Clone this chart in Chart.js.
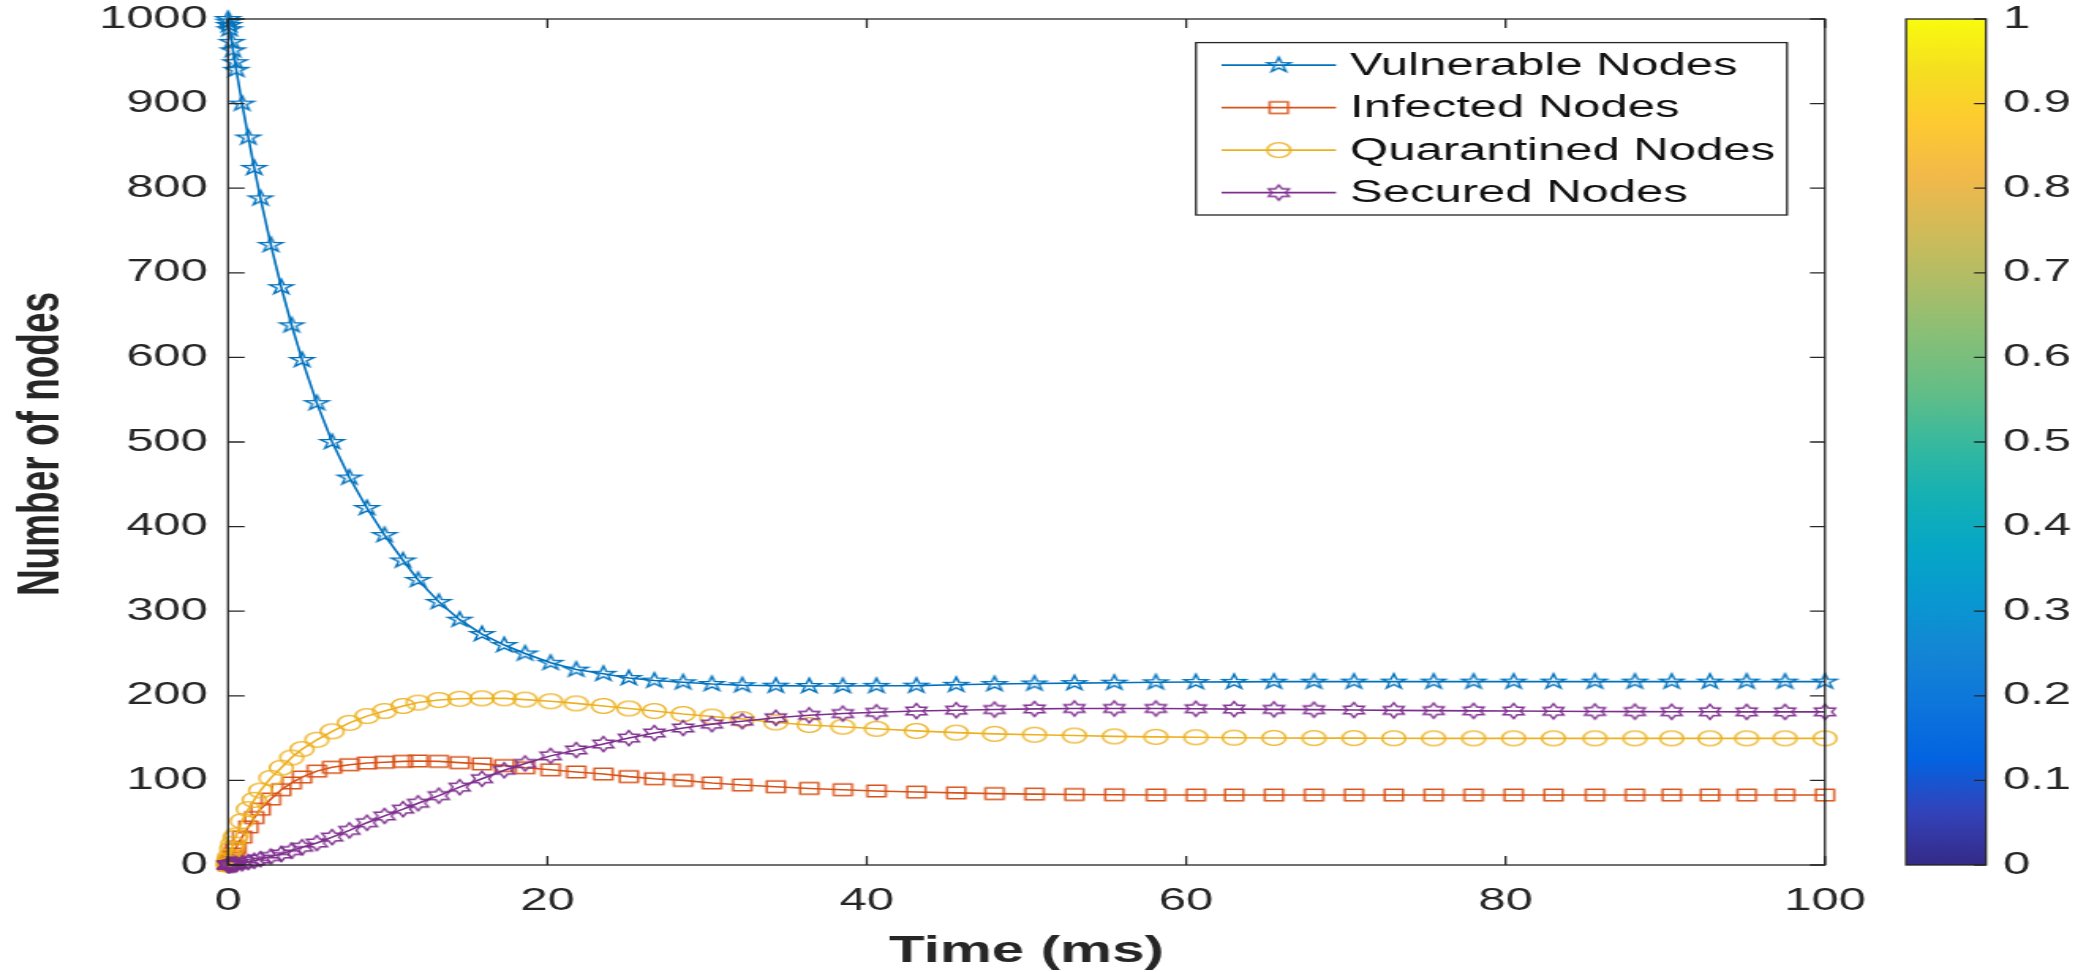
<!DOCTYPE html>
<html><head><meta charset="utf-8">
<script src="https://cdn.jsdelivr.net/npm/chart.js@4.4.1/dist/chart.umd.min.js"></script>
<style>
html,body{margin:0;padding:0;background:#fff;overflow:hidden}
#wrap{width:1320px;height:972px;transform:scaleX(1.5803);transform-origin:0 0}
</style></head><body>
<div id="wrap"><canvas id="c" width="1320" height="972"></canvas></div>
<script>
// DATA
const TIME=[0,0.03,0.06,0.1,0.23,0.31,0.44,0.51,0.88,1.27,1.64,2.03,2.68,3.33,3.98,4.64,5.56,6.52,7.6,8.7,9.8,10.96,11.9,13.2,14.5,15.9,17.3,18.6,20.2,21.8,23.5,25.1,26.7,28.5,30.3,32.2,34.3,36.4,38.5,40.6,43.1,45.6,48.0,50.5,53.0,55.5,58.1,60.6,63.0,65.5,68.0,70.5,73.0,75.5,78.0,80.5,83.0,85.6,88.1,90.4,92.8,95.1,97.5,100];
const VULNERABLE=[1000,997,993,988,973,963,949,940,900,860,824,788,733,683,638,597,546,500,458,422,390,360,337,311,290,273,260,250,239,231,226,221,218,216,214,212.5,212,211.6,211.6,211.8,212,213,213.9,214.6,215,215.5,216,216.3,216.5,216.7,216.7,216.8,216.8,216.8,216.8,216.8,216.8,216.8,216.8,216.8,216.8,216.8,216.8,216.8];
const INFECTED=[0,1.5,3,5,10,13,18,21,33,45,56,66,78,89,97,104,111,115.5,118.5,120.5,121.5,122.5,123,122.5,121,119.5,117.5,115,112.5,110,107.5,104.5,102,100,97,94.5,92.5,90.5,89,87.5,86.2,85.2,84.4,83.8,83.3,83,82.8,82.7,82.7,82.7,82.7,82.7,82.7,82.7,82.7,82.7,82.7,82.7,82.7,82.7,82.7,82.7,82.7,82.7];
const QUARANTINED=[0,3,6,10,19,25,32,35,52,66,77,88,103,115,127,137,148,158,168,176,182,188,192,195,196.5,197,197,195.5,193.5,191,188,185,182,178.5,175.5,172.5,168.5,165.5,163.5,161,158.5,156.5,155,154,153,152,151.5,151,150.5,150.2,150,150,149.8,149.7,149.7,149.7,149.7,149.7,149.7,149.7,149.7,149.7,149.7,149.7];
const SECURED=[0,0,0,0.1,0.3,0.5,0.8,1,2,3.5,5,7,10,13,17,21,26,33,41,50,58,66,73,82,92,102,112,120,129,136,143,150,156,162,166.5,170,174,177,179,180.5,182,183,183.8,184.5,185,185,185,184.7,184.3,184,183.6,183.2,182.8,182.5,182.2,182,181.7,181.5,181.3,181.2,181.1,181,181,181];
const SERIES_NAMES=['Vulnerable Nodes','Infected Nodes','Quarantined Nodes','Secured Nodes'];
const X_TICKS=[0,20,40,60,80,100];
const Y_TICKS=[0,100,200,300,400,500,600,700,800,900,1000];
const CB_TICKS=[0,0.1,0.2,0.3,0.4,0.5,0.6,0.7,0.8,0.9,1];
const CB_LABELS=['0','0.1','0.2','0.3','0.4','0.5','0.6','0.7','0.8','0.9','1'];
const X_TITLE='Time (ms)';
const Y_TITLE='Number of nodes';

// STYLE
const COLORS=['#0072BD','#D95319','#EDB120','#7E2F8E'];
const MARKERS=['pentagram','square','circle','hexagram'];
const PARULA=['#352A87','#3243BA','#0363E1','#0D75DC','#1485D4','#0998D1','#06A7C6','#15B1B4','#38B99E','#65BE86','#87BF77','#AEBD67','#D1BB59','#F1B94A','#FEC932','#F5DE21','#F9FB0E'];
const AXIS_COLOR='#262626';
const FONT='"Liberation Sans", Arial, Helvetica, sans-serif';
const CB_L=1206.1,CB_R=1256.7;

function starPath(g,m,n,R,r){
  for(let i=0;i<n*2;i++){
    const a=-Math.PI/2+i*Math.PI/n, rr=i%2?r:R;
    g.lineTo(m+rr*Math.cos(a),m+rr*Math.sin(a));
  }
  g.closePath();
}
function makeMarker(kind,color){
  const s=22,c=document.createElement('canvas');c.width=s;c.height=s;
  const g=c.getContext('2d'),m=s/2;
  g.strokeStyle=color;g.lineWidth=1.4;
  g.beginPath();
  if(kind==='pentagram') starPath(g,m,5,7.8,7.8*0.382);
  else if(kind==='square') g.rect(m-5.8,m-5.8,11.6,11.6);
  else if(kind==='circle') g.arc(m,m,7.4,0,Math.PI*2);
  else starPath(g,m,6,7.5,7.5/Math.sqrt(3));
  g.stroke();
  return c;
}

const seriesValues=[VULNERABLE,INFECTED,QUARANTINED,SECURED];
const datasets=seriesValues.map((vals,k)=>({
  label:SERIES_NAMES[k],
  data:TIME.map((t,i)=>({x:t,y:vals[i]})),
  borderColor:COLORS[k],
  borderWidth:1.6,
  pointStyle:makeMarker(MARKERS[k],COLORS[k]),
  pointRadius:7,
  pointHoverRadius:7,
  fill:false,
  tension:0,
  clip:false,
  order:4-k
}));

function fixTicks(arr){return s=>{s.ticks=arr.map(v=>({value:v}));};}
function fixSize(dim,val){return s=>{s[dim]=val;s.paddingLeft=0;s.paddingRight=0;s.paddingTop=0;s.paddingBottom=0;};}

const matlabAxes={
  id:'matlabAxes',
  afterDraw(chart){
    const {ctx,chartArea:a,scales}=chart;
    const x=scales.x,y=scales.y,cb=scales.cb;
    ctx.save();
    ctx.strokeStyle=AXIS_COLOR;ctx.lineWidth=1.3;
    ctx.beginPath();
    x.ticks.forEach(t=>{const p=x.getPixelForValue(t.value);
      ctx.moveTo(p,a.bottom);ctx.lineTo(p,a.bottom-9);ctx.moveTo(p,a.top);ctx.lineTo(p,a.top+9);});
    y.ticks.forEach(t=>{const p=y.getPixelForValue(t.value);
      ctx.moveTo(a.left,p);ctx.lineTo(a.left+10.5,p);ctx.moveTo(a.right,p);ctx.lineTo(a.right-9.5,p);});
    ctx.stroke();
    ctx.strokeRect(a.left,a.top,a.right-a.left,a.bottom-a.top);

    // colorbar
    const top=cb.getPixelForValue(1),bot=cb.getPixelForValue(0);
    const grad=ctx.createLinearGradient(0,bot,0,top);
    PARULA.forEach((c,i)=>grad.addColorStop(i/(PARULA.length-1),c));
    ctx.fillStyle=grad;ctx.fillRect(CB_L,top,CB_R-CB_L,bot-top);
    ctx.strokeRect(CB_L,top,CB_R-CB_L,bot-top);
    ctx.beginPath();
    cb.ticks.forEach(t=>{const p=cb.getPixelForValue(t.value);ctx.moveTo(CB_R,p);ctx.lineTo(CB_R-7.5,p);});
    ctx.stroke();

    // axis titles
    ctx.fillStyle=AXIS_COLOR;ctx.font='bold 37px '+FONT;
    ctx.textAlign='center';ctx.textBaseline='middle';
    ctx.fillText(X_TITLE,(a.left+a.right)/2,952);
    ctx.save();ctx.translate(26.5,(a.top+a.bottom)/2+2);ctx.rotate(-Math.PI/2);
    ctx.fillText(Y_TITLE,0,0);ctx.restore();

    // legend
    const L=756.8,R=1130.8,T=42.6,B=215;
    ctx.fillStyle='#fff';ctx.fillRect(L,T,R-L,B-T);
    ctx.strokeStyle=AXIS_COLOR;ctx.lineWidth=1.3;ctx.strokeRect(L,T,R-L,B-T);
    ctx.font='31px '+FONT;ctx.textAlign='left';
    chart.data.datasets.forEach((d,i)=>{
      const yy=T+22.5+i*42.5;
      ctx.strokeStyle=d.borderColor;ctx.lineWidth=1.6;
      ctx.beginPath();ctx.moveTo(773,yy);ctx.lineTo(845.4,yy);ctx.stroke();
      ctx.drawImage(d.pointStyle,809.2-d.pointStyle.width/2,yy-d.pointStyle.height/2);
      ctx.fillStyle='#111';ctx.fillText(d.label,854.3,yy+1);
    });
    ctx.restore();
  }
};

Chart.defaults.font.family=FONT;
Chart.defaults.font.size=31;
Chart.defaults.color=AXIS_COLOR;

new Chart(document.getElementById('c'),{
  type:'line',
  data:{datasets},
  options:{
    responsive:false,
    animation:false,
    events:[],
    layout:{padding:{left:0,right:0,top:19,bottom:0}},
    plugins:{legend:{display:false},tooltip:{enabled:false}},
    scales:{
      x:{type:'linear',position:'bottom',min:0,max:100,
        grid:{display:false,drawTicks:false},border:{display:false},
        afterBuildTicks:fixTicks(X_TICKS),afterFit:fixSize('height',107),
        ticks:{padding:18,autoSkip:false,maxRotation:0,callback:v=>String(v)}},
      y:{type:'linear',position:'left',min:0,max:1000,
        grid:{display:false,drawTicks:false},border:{display:false},
        afterBuildTicks:fixTicks(Y_TICKS),afterFit:fixSize('width',144.3),
        ticks:{padding:12.7,autoSkip:false,callback:v=>String(v)}},
      cb:{type:'linear',axis:'y',position:'right',min:0,max:1,
        grid:{display:false,drawTicks:false},border:{display:false},
        afterBuildTicks:fixTicks(CB_TICKS),afterFit:fixSize('width',165.2),
        ticks:{padding:112.7,autoSkip:false,callback:(v,i)=>CB_LABELS[i]}}
    }
  },
  plugins:[matlabAxes]
});
</script></body></html>
